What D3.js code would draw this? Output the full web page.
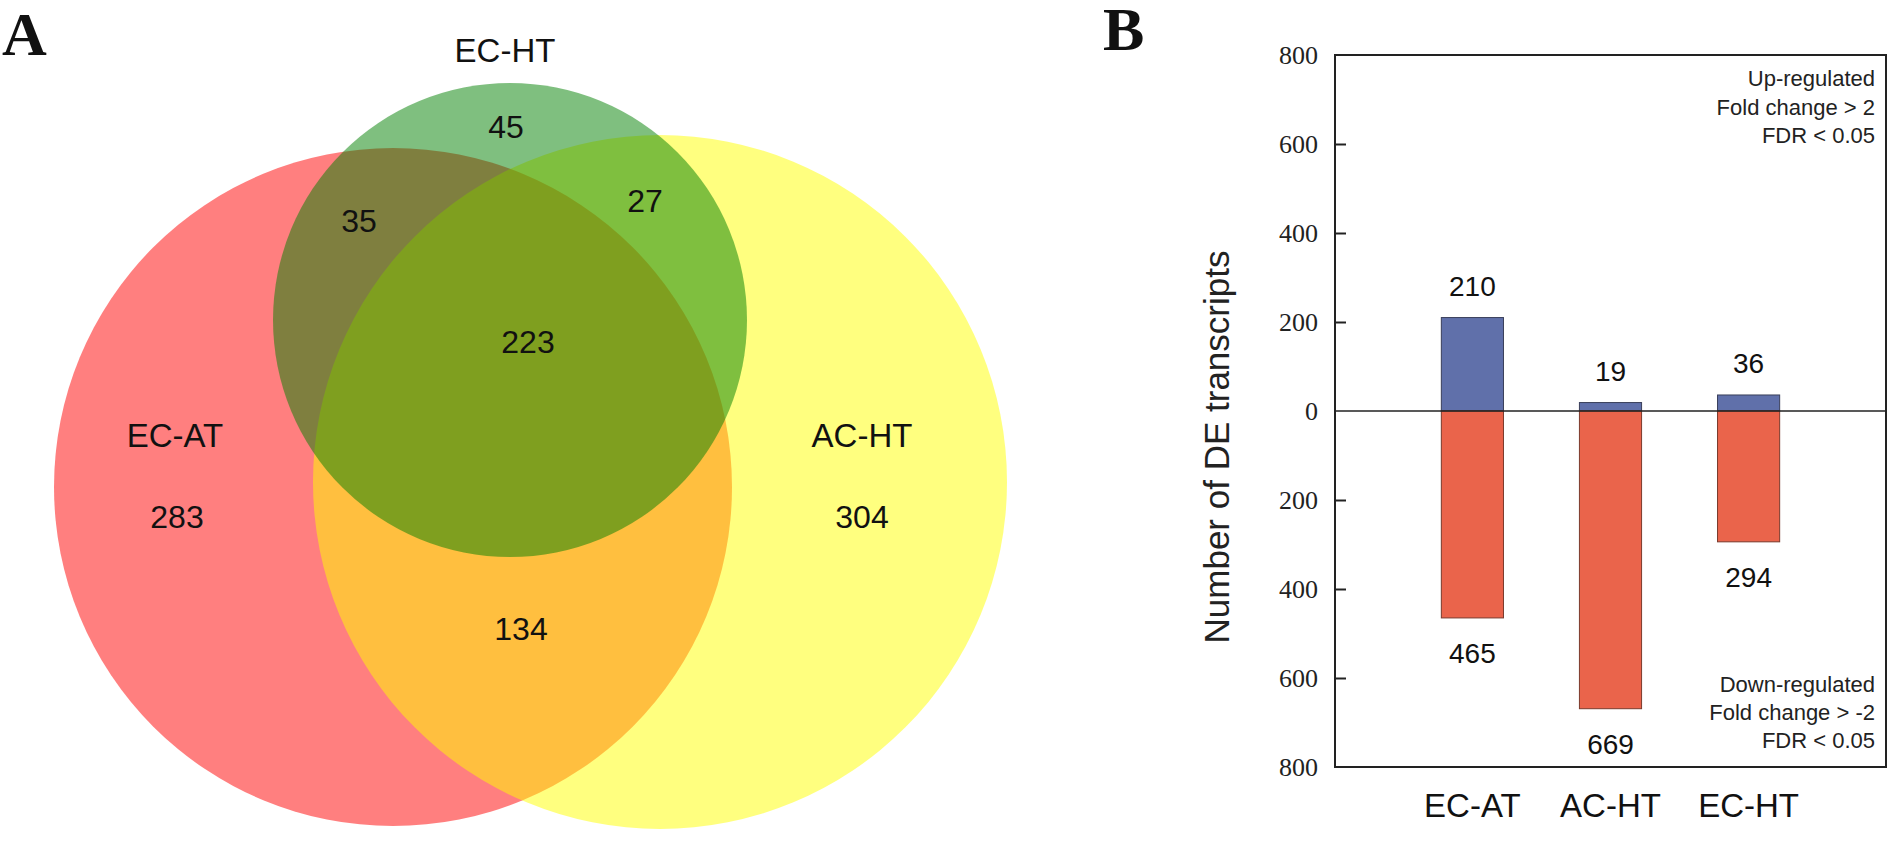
<!DOCTYPE html>
<meta charset="utf-8">
<head>
<style>
  body { margin: 0; background: #fff; }
  svg text { font-family: "Liberation Sans", Arial, sans-serif; fill: #111; }
  .panel-letter { font-family: "Liberation Serif", "Times New Roman", serif; font-weight: bold; }
  .axis text { font-family: "Liberation Serif", "Times New Roman", serif; font-size: 26px; fill: #222; }
  .axis line { stroke: #222; stroke-width: 2px; }
</style>
</head>
<body>
<div id="chart"></div>
<script src="https://cdnjs.cloudflare.com/ajax/libs/d3/7.8.5/d3.min.js"></script>
<script>
// ---- data ----
var vennSets = ["EC-AT", "AC-HT", "EC-HT"];
var vennRegions = ["EC-AT", "AC-HT", "EC-HT", "EC-AT&EC-HT", "EC-HT&AC-HT", "EC-AT&AC-HT", "all"];
var vennCounts = [283, 304, 45, 35, 27, 134, 223];

var categories = ["EC-AT", "AC-HT", "EC-HT"];
var upRegulated = [210, 19, 36];
var downRegulated = [465, 669, 294];
var yTicks = [-800, -600, -400, -200, 0, 200, 400, 600, 800];

var upNote = ["Up-regulated", "Fold change > 2", "FDR < 0.05"];
var downNote = ["Down-regulated", "Fold change > -2", "FDR < 0.05"];

var W = 1890, H = 854;
var svg = d3.select("#chart").append("svg")
  .attr("width", W).attr("height", H);

// ---- panel A : venn ----
// circle layout (pixels)
var circles = {
  "EC-AT": {cx: 393, cy: 487, r: 339, color: "#ff0000"},
  "AC-HT": {cx: 660, cy: 482, r: 347, color: "#ffff00"},
  "EC-HT": {cx: 510, cy: 320, r: 237, color: "#008000"}
};
var regionPos = {
  "EC-AT": [177, 528], "AC-HT": [862, 528], "EC-HT": [506, 138],
  "EC-AT&EC-HT": [359, 232], "EC-HT&AC-HT": [645, 212],
  "EC-AT&AC-HT": [521, 640], "all": [528, 353]
};
var setLabelPos = {"EC-AT": [175, 447], "AC-HT": [862, 447], "EC-HT": [505, 62]};

var venn = svg.append("g");
venn.selectAll("circle")
  .data(vennSets)
  .enter().append("circle")
    .attr("cx", function(d) { return circles[d].cx; })
    .attr("cy", function(d) { return circles[d].cy; })
    .attr("r", function(d) { return circles[d].r; })
    .style("fill", function(d) { return circles[d].color; })
    .style("fill-opacity", 0.5);

venn.selectAll(".setlabel")
  .data(vennSets)
  .enter().append("text")
    .attr("x", function(d) { return setLabelPos[d][0]; })
    .attr("y", function(d) { return setLabelPos[d][1]; })
    .attr("text-anchor", "middle")
    .style("font-size", "33px")
    .text(function(d) { return d; });

venn.selectAll(".count")
  .data(vennRegions)
  .enter().append("text")
    .attr("x", function(d) { return regionPos[d][0]; })
    .attr("y", function(d) { return regionPos[d][1]; })
    .attr("text-anchor", "middle")
    .style("font-size", "32px")
    .text(function(d, i) { return vennCounts[i]; });

svg.append("text").attr("class", "panel-letter")
  .attr("x", 2).attr("y", 55).style("font-size", "62px").text("A");
svg.append("text").attr("class", "panel-letter")
  .attr("x", 1103).attr("y", 50).style("font-size", "62px").text("B");

// ---- panel B : bars ----
var plotLeft = 1335, plotRight = 1886, plotTop = 55, plotBottom = 767;

var x = d3.scaleBand()
  .domain(categories)
  .range([plotLeft, plotRight])
  .paddingInner(0.55)
  .paddingOuter(0.77);

var y = d3.scaleLinear()
  .domain([-800, 800])
  .range([plotBottom, plotTop]);

var bars = svg.append("g");

bars.selectAll(".up")
  .data(categories)
  .enter().append("rect")
    .attr("x", function(d) { return x(d); })
    .attr("width", x.bandwidth())
    .attr("y", function(d, i) { return y(upRegulated[i]); })
    .attr("height", function(d, i) { return y(0) - y(upRegulated[i]); })
    .style("fill", "#6070aa")
    .style("stroke", "#3a3f5a")
    .style("stroke-width", 1);

bars.selectAll(".down")
  .data(categories)
  .enter().append("rect")
    .attr("x", function(d) { return x(d); })
    .attr("width", x.bandwidth())
    .attr("y", y(0))
    .attr("height", function(d, i) { return y(-downRegulated[i]) - y(0); })
    .style("fill", "#ea644b")
    .style("stroke", "#7a3a2c")
    .style("stroke-width", 1);

bars.selectAll(".uplabel")
  .data(categories)
  .enter().append("text")
    .attr("x", function(d) { return x(d) + x.bandwidth() / 2; })
    .attr("y", function(d, i) { return y(upRegulated[i]) - 22; })
    .attr("text-anchor", "middle")
    .style("font-size", "28px")
    .text(function(d, i) { return upRegulated[i]; });

bars.selectAll(".downlabel")
  .data(categories)
  .enter().append("text")
    .attr("x", function(d) { return x(d) + x.bandwidth() / 2; })
    .attr("y", function(d, i) { return y(-downRegulated[i]) + 45; })
    .attr("text-anchor", "middle")
    .style("font-size", "28px")
    .text(function(d, i) { return downRegulated[i]; });

// zero line
svg.append("line")
  .attr("x1", plotLeft).attr("x2", plotRight)
  .attr("y1", y(0)).attr("y2", y(0))
  .style("stroke", "#222").style("stroke-width", 1.5);

// y axis with inward ticks
var yAxis = svg.append("g")
  .attr("class", "axis")
  .attr("transform", "translate(" + plotLeft + ",0)")
  .call(d3.axisLeft(y)
    .tickValues(yTicks)
    .tickSizeInner(-11)
    .tickSizeOuter(0)
    .tickPadding(17)
    .tickFormat(function(d) { return Math.abs(d); }));
yAxis.select(".domain").remove();
yAxis.selectAll(".tick").filter(function(d) { return d === 800 || d === -800 || d === 0; })
  .select("line").remove();

// frame
svg.append("rect")
  .attr("x", plotLeft).attr("y", plotTop)
  .attr("width", plotRight - plotLeft).attr("height", plotBottom - plotTop)
  .style("fill", "none").style("stroke", "#222").style("stroke-width", 2);

// x labels
svg.selectAll(".xlabel")
  .data(categories)
  .enter().append("text")
    .attr("x", function(d) { return x(d) + x.bandwidth() / 2; })
    .attr("y", 817)
    .attr("text-anchor", "middle")
    .style("font-size", "33px")
    .text(function(d) { return d; });

// y title
svg.append("text")
  .attr("transform", "translate(1229,447) rotate(-90)")
  .attr("text-anchor", "middle")
  .style("font-size", "35px")
  .style("fill", "#222")
  .text("Number of DE transcripts");

// notes
svg.selectAll(".upnote")
  .data(upNote)
  .enter().append("text")
    .attr("x", 1875)
    .attr("y", function(d, i) { return 86 + i * 28.5; })
    .attr("text-anchor", "end")
    .style("font-size", "22px")
    .style("fill", "#222")
    .text(function(d) { return d; });

svg.selectAll(".downnote")
  .data(downNote)
  .enter().append("text")
    .attr("x", 1875)
    .attr("y", function(d, i) { return 692 + i * 28; })
    .attr("text-anchor", "end")
    .style("font-size", "22px")
    .style("fill", "#222")
    .text(function(d) { return d; });
</script>
</body>
